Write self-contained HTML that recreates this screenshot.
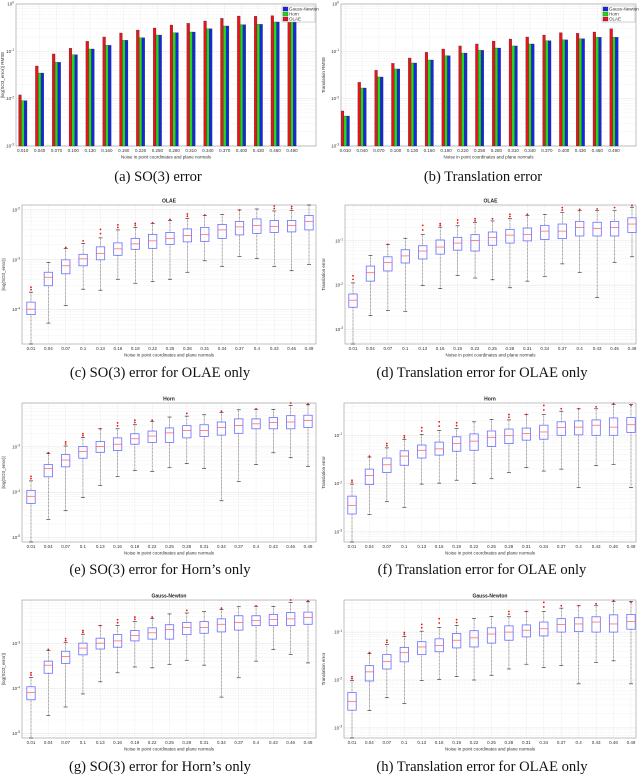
<!DOCTYPE html>
<html><head><meta charset="utf-8"><style>
html,body{margin:0;padding:0;background:#fff;}
svg{display:block;}
.cap{font-family:"Liberation Serif",serif;font-size:14.6px;fill:#111;}
.tk{font-family:"Liberation Sans",sans-serif;font-size:4.5px;fill:#333;}
.ttl{font-family:"Liberation Sans",sans-serif;font-size:5px;font-weight:bold;fill:#222;}
</style></head><body>
<svg id="fig" width="640" height="774" viewBox="0 0 640 774" xmlns="http://www.w3.org/2000/svg"></svg>
<script>
// ---- Bar chart data ----
const barCats = ["0.010","0.040","0.070","0.100","0.130","0.160","0.190","0.220","0.250","0.280","0.310","0.340","0.370","0.400","0.430","0.460","0.490"];
const aOLAE = [0.012,0.049,0.088,0.116,0.163,0.201,0.244,0.282,0.311,0.36,0.39,0.437,0.498,0.557,0.55,0.567,0.60];
const aHorn = [0.0091,0.0348,0.0586,0.085,0.112,0.134,0.171,0.194,0.221,0.248,0.256,0.301,0.343,0.366,0.372,0.417,0.417];
const aGN   = [0.0091,0.0348,0.0586,0.085,0.112,0.134,0.171,0.194,0.221,0.248,0.256,0.301,0.343,0.366,0.372,0.417,0.417];
const bOLAE = [0.0055,0.0221,0.0397,0.0557,0.0723,0.0953,0.112,0.13,0.143,0.165,0.182,0.201,0.221,0.248,0.24,0.256,0.301];
const bHorn = [0.0043,0.0168,0.0287,0.0424,0.0567,0.0656,0.081,0.092,0.105,0.1175,0.13,0.143,0.168,0.175,0.185,0.198,0.198];
const bGN   = [0.0043,0.0168,0.0287,0.0424,0.0567,0.0656,0.081,0.092,0.105,0.1175,0.13,0.143,0.168,0.175,0.185,0.198,0.198];
// ---- Box plot data (log10 values) ----
const boxCats = ["0.01","0.04","0.07","0.1","0.13","0.16","0.19","0.22","0.25","0.28","0.31","0.34","0.37","0.4","0.43","0.46","0.49"];
const cMed = [-3.99,-3.35,-3.12,-2.98,-2.87,-2.78,-2.68,-2.62,-2.57,-2.51,-2.49,-2.4,-2.34,-2.31,-2.33,-2.31,-2.23];
const cQ3  = [-3.85,-3.25,-3.0,-2.89,-2.74,-2.66,-2.57,-2.49,-2.45,-2.38,-2.35,-2.29,-2.23,-2.18,-2.21,-2.21,-2.11];
const cQ1  = [-4.1,-3.52,-3.28,-3.12,-3.0,-2.91,-2.79,-2.77,-2.69,-2.64,-2.63,-2.57,-2.5,-2.47,-2.45,-2.44,-2.4];
const cHi  = [-3.65,-3.05,-2.77,-2.67,-2.56,-2.4,-2.35,-2.27,-2.21,-2.17,-2.11,-2.09,-2.0,-1.98,-2.02,-2.01,-1.9];
const cLo  = [-4.69,-4.27,-3.92,-3.59,-3.61,-3.39,-3.47,-3.44,-3.39,-3.25,-3.02,-3.13,-2.93,-2.97,-3.13,-3.22,-3.09];
const cOut = [-3.55,null,-2.75,-2.62,-2.39,-2.3,-2.27,-2.26,-2.19,-2.08,-2.1,null,-2.0,null,-1.92,-1.93,null];
const dMed = [-2.34,-1.72,-1.49,-1.34,-1.23,-1.14,-1.05,-0.99,-0.92,-0.87,-0.86,-0.78,-0.78,-0.70,-0.72,-0.70,-0.62];
const dQ3  = [-2.20,-1.57,-1.36,-1.20,-1.11,-0.98,-0.92,-0.86,-0.80,-0.74,-0.71,-0.65,-0.62,-0.56,-0.58,-0.56,-0.48];
const dQ1  = [-2.50,-1.91,-1.68,-1.50,-1.41,-1.30,-1.21,-1.23,-1.10,-1.05,-1.0,-0.97,-0.95,-0.89,-0.89,-0.89,-0.81];
const dHi  = [-1.95,-1.33,-1.08,-0.94,-0.86,-0.69,-0.66,-0.59,-0.55,-0.50,-0.43,-0.40,-0.36,-0.32,-0.32,-0.32,-0.24];
const dLo  = [-3.33,-2.69,-2.57,-2.59,-2.01,-2.08,-1.78,-1.84,-1.88,-2.06,-1.91,-1.80,-1.52,-1.71,-2.28,-1.49,-1.36];
const dOut = [-1.79,null,-1.08,null,-0.65,-0.61,-0.53,-0.50,-0.50,-0.40,-0.40,null,-0.25,-0.29,-0.28,-0.25,-0.20];
const eMed = [-4.09,-3.48,-3.29,-3.10,-2.99,-2.94,-2.82,-2.76,-2.69,-2.64,-2.64,-2.57,-2.53,-2.49,-2.46,-2.45,-2.42];
const eQ3  = [-3.96,-3.39,-3.17,-2.99,-2.88,-2.80,-2.71,-2.65,-2.58,-2.53,-2.51,-2.45,-2.38,-2.38,-2.35,-2.31,-2.30];
const eQ1  = [-4.25,-3.66,-3.44,-3.25,-3.12,-3.08,-2.94,-2.90,-2.90,-2.80,-2.77,-2.74,-2.70,-2.60,-2.60,-2.60,-2.57];
const eHi  = [-3.75,-3.15,-2.98,-2.79,-2.60,-2.60,-2.51,-2.44,-2.34,-2.32,-2.29,-2.24,-2.18,-2.17,-2.17,-2.08,-2.07];
const eLo  = [-5.10,-4.60,-4.41,-4.12,-3.85,-3.65,-3.52,-3.54,-3.46,-3.37,-3.48,-4.19,-3.76,-3.39,-3.13,-3.24,-3.43];
const eOut = [-3.65,-3.13,-2.89,-2.71,-2.60,-2.47,-2.41,-2.41,null,-2.26,null,-2.21,null,-2.16,null,-2.03,-2.05];
const fMed = [-2.45,-1.83,-1.61,-1.43,-1.31,-1.28,-1.17,-1.12,-1.04,-1.0,-0.96,-0.93,-0.84,-0.83,-0.79,-0.83,-0.78];
const fQ3  = [-2.26,-1.70,-1.47,-1.32,-1.20,-1.14,-1.03,-0.97,-0.91,-0.87,-0.85,-0.79,-0.72,-0.70,-0.68,-0.64,-0.63];
const fQ1  = [-2.63,-2.02,-1.77,-1.62,-1.47,-1.41,-1.33,-1.31,-1.23,-1.17,-1.10,-1.08,-1.0,-0.99,-1.0,-1.0,-0.94];
const fHi  = [-2.01,-1.45,-1.26,-1.09,-0.98,-0.90,-0.86,-0.72,-0.67,-0.68,-0.57,-0.57,-0.50,-0.45,-0.45,-0.36,-0.36];
const fLo  = [-3.21,-2.64,-2.37,-2.49,-2.01,-1.99,-1.93,-2.0,-1.90,-1.77,-1.67,-1.74,-1.70,-2.08,-1.63,-1.60,-2.08];
const fOut = [-1.93,-1.43,-1.17,-1.01,-0.84,-0.72,-0.74,null,null,-0.57,-0.57,-0.38,-0.45,-0.45,-0.41,-0.34,-0.38];

const NS="http://www.w3.org/2000/svg";
const svg=document.getElementById('fig');
function mk(tag,attrs,parent){const e=document.createElementNS(NS,tag);for(const k in attrs)e.setAttribute(k,attrs[k]);(parent||svg).appendChild(e);return e;}

function axes(P,name,title,ylabel){
  const g=mk('g',{});
  
  
  mk('rect',{x:P.x0,y:P.y0,width:P.x1-P.x0,height:P.y1-P.y0,fill:'#fff'},g);
  const yOf=l=>P.y0+(P.lt-l)/(P.lt-P.lb)*(P.y1-P.y0);
  P.y=yOf;
  P.x=i=>P.c0+i*(P.c1-P.c0)/(P.n-1);
  for(let d=Math.floor(P.lb);d<Math.ceil(P.lt)+1;d++){
    for(let m=1;m<10;m++){
      const l=d+Math.log10(m);
      if(l<P.lb-1e-6||l>P.lt+1e-6)continue;
      const y=yOf(l);
      mk('line',{x1:P.x0,x2:P.x1,y1:y,y2:y,stroke:m===1?'#cfcfcf':'#e6e6e6','stroke-width':0.5,'stroke-dasharray':m===1?'1,0.6':'0.8,0.8'},g);
      if(m===1){
        const t=mk('text',{x:P.x0-2,y:y+1.5,'text-anchor':'end',class:'tk'},g);
        t.textContent='10';
        const s=mk('tspan',{dy:-1.8,'font-size':'3.2px'},t);s.textContent=String(d);
        
        
      }
    }
  }
  for(let i=0;i<P.n;i++){
    const x=P.x(i);
    mk('line',{x1:x,x2:x,y1:P.y0,y2:P.y1,stroke:'#e2e2e2','stroke-width':0.5,'stroke-dasharray':'1,0.8'},g);
    const t=mk('text',{x:x,y:P.y1+6,'text-anchor':'middle',class:'tk'},g);
    t.textContent=P.cats[i];
    
    
  }
  mk('rect',{x:P.x0,y:P.y0,width:P.x1-P.x0,height:P.y1-P.y0,fill:'none',stroke:'#999','stroke-width':0.6},g);
  const xl=mk('text',{x:(P.x0+P.x1)/2,y:P.y1+12.5,'text-anchor':'middle',class:'tk','font-size':'5px'},g);
  xl.textContent='Noise in point coordinates and plane normals';
  
  
  const yl=mk('text',{x:0,y:0,'text-anchor':'middle',class:'tk',transform:`translate(${P.yx},${(P.y0+P.y1)/2}) rotate(-90)`},g);
  yl.textContent=ylabel;
  
  
  if(title){
    const tt=mk('text',{x:(P.x0+P.x1)/2,y:P.y0-2.5,'text-anchor':'middle',class:'ttl'},g);
    tt.textContent=title;
    
    
  }
  return g;
}

function barChart(P,name,ylabel,red,green,blue){
  const g=axes(P,name,null,ylabel);
  const bw=2.8;
  const series=[[red,'#e8141c',-1.5],[green,'#1fd81f',-0.5],[blue,'#1428e0',0.5]];
  series.forEach(([arr,col,off])=>{
    for(let i=0;i<arr.length;i++){
      const x=P.x(i)+off*bw;
      const yt=P.y(Math.log10(arr[i]));
      const r=mk('rect',{x:x,y:yt,width:bw,height:P.y1-yt,fill:col,stroke:'#222','stroke-width':0.25},g);
      
      
    }
  });
  const lg=mk('g',{},g);
  
  
  const lx=P.x1-34,ly=P.y0+2;
  mk('rect',{x:lx,y:ly,width:33,height:16,fill:'#fff',stroke:'#999','stroke-width':0.4},lg);
  [['Gauss-Newton','#1428e0'],['Horn','#1fd81f'],['OLAE','#e8141c']].forEach(([lab,col],k)=>{
    const e=mk('g',{},lg);
    
    
    mk('rect',{x:lx+1,y:ly+1+k*5,width:5,height:4,fill:col,stroke:'#222','stroke-width':0.25},e);
    const t=mk('text',{x:lx+7,y:ly+4.4+k*5,class:'tk','font-size':'3.8px'},e);
    t.textContent=lab;
  });
}

function boxChart(P,name,title,ylabel,med,q3,q1,hi,lo,out){
  const g=axes(P,name,title,ylabel);
  const hw=4.2;
  for(let i=0;i<med.length;i++){
    const x=P.x(i);
    const b=mk('g',{},g);
    
    
    mk('line',{x1:x,x2:x,y1:P.y(hi[i]),y2:P.y(q3[i]),stroke:'#333','stroke-width':0.5,'stroke-dasharray':'0.8,0.6'},b);
    mk('line',{x1:x,x2:x,y1:P.y(q1[i]),y2:Math.min(P.y1,P.y(lo[i])),stroke:'#333','stroke-width':0.5,'stroke-dasharray':'0.8,0.6'},b);
    mk('line',{x1:x-2,x2:x+2,y1:P.y(hi[i]),y2:P.y(hi[i]),stroke:'#222','stroke-width':0.6},b);
    mk('line',{x1:x-2,x2:x+2,y1:Math.min(P.y1,P.y(lo[i])),y2:Math.min(P.y1,P.y(lo[i])),stroke:'#222','stroke-width':0.6},b);
    mk('rect',{x:x-hw,y:P.y(q3[i]),width:2*hw,height:P.y(q1[i])-P.y(q3[i]),fill:'none',stroke:'#6d6dff','stroke-width':0.8},b);
    mk('line',{x1:x-hw,x2:x+hw,y1:P.y(med[i]),y2:P.y(med[i]),stroke:'#ff5a5a','stroke-width':0.7},b);
    if(out[i]!==null){
      const n=Math.max(1,Math.round((hi[i]-out[i])*-1/0.05));
      const ys=[P.y(out[i])];
      if(n>1)ys.push((P.y(out[i])+P.y(hi[i]))/2);
      ys.forEach(yy=>mk('circle',{cx:x,cy:Math.max(P.y0,yy),r:0.9,fill:'#f01010'},b));
    }
  }
}

function caption(x,y,text,name){
  const t=mk('text',{x:x,y:y,'text-anchor':'middle',class:'cap'});
  t.textContent=text;
  
  
}

barChart({x0:16,x1:316,y0:4,y1:146,lt:0,lb:-3,c0:22.8,c1:292,n:17,cats:barCats,yx:4},'so3-bar-chart','|log(SO3_error)| RMSE',aOLAE,aHorn,aGN);
barChart({x0:341,x1:636,y0:4,y1:146,lt:0,lb:-3,c0:345.3,c1:614,n:17,cats:barCats,yx:325},'translation-bar-chart','Translation RMSE',bOLAE,bHorn,bGN);
boxChart({x0:22,x1:316,y0:205,y1:344,lt:-1.9,lb:-4.69,c0:31,c1:309,n:17,cats:boxCats,yx:5},'so3-olae-boxplot','OLAE','|log(SO3_error)|',cMed,cQ3,cQ1,cHi,cLo,cOut);
boxChart({x0:345,x1:636,y0:205,y1:344,lt:-0.19,lb:-3.33,c0:353,c1:632,n:17,cats:boxCats,yx:325},'translation-olae-boxplot','OLAE','Translation error',dMed,dQ3,dQ1,dHi,dLo,dOut);
boxChart({x0:22,x1:316,y0:403,y1:542,lt:-2.03,lb:-5.10,c0:31,c1:308,n:17,cats:boxCats,yx:5},'so3-horn-boxplot','Horn','|log(SO3_error)|',eMed,eQ3,eQ1,eHi,eLo,eOut);
boxChart({x0:344,x1:636,y0:403,y1:542,lt:-0.33,lb:-3.21,c0:352,c1:631,n:17,cats:boxCats,yx:325},'translation-horn-boxplot','Horn','Translation error',fMed,fQ3,fQ1,fHi,fLo,fOut);
boxChart({x0:22,x1:316,y0:600,y1:738,lt:-2.03,lb:-5.10,c0:31,c1:308,n:17,cats:boxCats,yx:5},'so3-gn-boxplot','Gauss-Newton','|log(SO3_error)|',eMed,eQ3,eQ1,eHi,eLo,eOut);
boxChart({x0:344,x1:636,y0:600,y1:738,lt:-0.33,lb:-3.21,c0:352,c1:631,n:17,cats:boxCats,yx:325},'translation-gn-boxplot','Gauss-Newton','Translation error',fMed,fQ3,fQ1,fHi,fLo,fOut);

caption(158,181,'(a) SO(3) error','caption-a');
caption(483,181,'(b) Translation error','caption-b');
caption(160,377,'(c) SO(3) error for OLAE only','caption-c');
caption(482,377,'(d) Translation error for OLAE only','caption-d');
caption(160,574,'(e) SO(3) error for Horn’s only','caption-e');
caption(482,574,'(f) Translation error for OLAE only','caption-f');
caption(160,771,'(g) SO(3) error for Horn’s only','caption-g');
caption(482,771,'(h) Translation error for OLAE only','caption-h');
</script>
</body></html>
